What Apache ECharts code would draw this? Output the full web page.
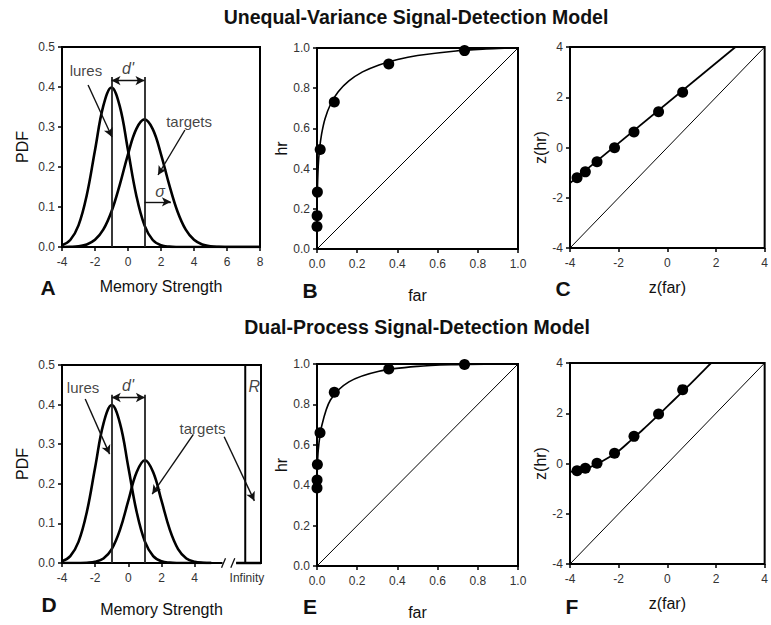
<!DOCTYPE html>
<html><head><meta charset="utf-8">
<script src="https://cdn.jsdelivr.net/npm/echarts@6/dist/echarts.min.js"></script>
<style>html,body{margin:0;padding:0;background:#fff}#c{width:771px;height:625px}</style>
</head><body><div id="c"></div>
<script>
// ---------- data ----------
const strengthX   = [-4,-3.5,-3,-2.5,-2,-1.5,-1,-0.5,0,0.5,1,1.5,2,2.5,3,3.5,4,4.5,5,5.5,6,6.5,7,7.5,8];
const luresPdf    = [0.0044,0.0175,0.054,0.1295,0.242,0.3521,0.3989,0.3521,0.242,0.1295,0.054,0.0175,0.0044,0.0009,0.0001,0,0,0,0,0,0,0,0,0,0];
const targetsPdfA = [0.0001,0.0005,0.0019,0.0063,0.0179,0.0432,0.0887,0.1553,0.2318,0.2946,0.3191,0.2946,0.2318,0.1553,0.0887,0.0432,0.0179,0.0063,0.0019,0.0005,0.0001,0,0,0,0];
const strengthXD  = [-4,-3.5,-3,-2.5,-2,-1.5,-1,-0.5,0,0.5,1,1.5,2,2.5,3,3.5,4,4.5,5];
const luresPdfD   = [0.0044,0.0175,0.054,0.1295,0.242,0.3521,0.3989,0.3521,0.242,0.1295,0.054,0.0175,0.0044,0.0009,0.0001,0,0,0,0];
const targetsPdfD = [0,0,0.0001,0.0006,0.0029,0.0114,0.0351,0.0842,0.1573,0.2289,0.2593,0.2289,0.1573,0.0842,0.0351,0.0114,0.0029,0.0006,0.0001];

// Panel B (ROC, unequal variance)
const farB      = [0.0001,0.0004,0.002,0.016,0.086,0.357,0.734];
const hrB       = [0.112,0.166,0.283,0.495,0.731,0.92,0.987];
const curveFarB = [0,0.00003,0.0002,0.00135,0.0062,0.0122,0.0228,0.04,0.0668,0.1056,0.1587,0.2266,0.3085,0.4013,0.5,0.6915,0.8413,0.9332,1];
const curveHrB  = [0,0.078,0.154,0.268,0.413,0.492,0.571,0.648,0.719,0.782,0.836,0.881,0.916,0.943,0.9625,0.9854,0.9951,0.9986,1];
// Panel C (zROC, unequal variance)
const zFarC = [-3.71,-3.37,-2.89,-2.17,-1.37,-0.36,0.63];
const zHrC  = [-1.2,-0.97,-0.57,-0.01,0.62,1.42,2.2];
const lineZFarC = [-4,2.8];
const lineZHrC  = [-1.42,4];
// Panel E (ROC, dual process)
const farE      = [0.0001,0.0004,0.0019,0.015,0.086,0.357,0.734];
const hrE       = [0.386,0.426,0.502,0.66,0.86,0.975,0.998];
const curveFarE = [0,0.00003,0.00023,0.00135,0.0062,0.0228,0.0668,0.1587,0.3085,0.5,0.6915,0.8413,1];
const curveHrE  = [0.35,0.3687,0.4025,0.4696,0.574,0.6909,0.8217,0.9118,0.9644,0.9884,0.997,0.9994,1];
// Panel F (zROC, dual process)
const zFarF = [-3.71,-3.37,-2.89,-2.17,-1.37,-0.36,0.63];
const zHrF  = [-0.29,-0.19,0.01,0.41,1.08,1.97,2.94];
const curveZFarF = [-4,-3.5,-3,-2.5,-2,-1.5,-1,-0.5,0,0.5,1,1.5,1.8];
const curveZHrF  = [-0.335,-0.246,-0.076,0.187,0.499,0.922,1.352,1.805,2.27,2.745,3.22,3.71,4.0];

// tick values
const strengthTicksD = [-4,-2,0,2,4];
const infinityAt = 7.15;

// ---------- chart ----------
const FONT = "'Liberation Sans', Arial, Helvetica, sans-serif";
const zip = (a, b) => a.map((v, i) => [v, b[i]]);
const chart = echarts.init(document.getElementById('c'), null, {renderer: 'svg'});

const grids = [
  {left: 62,  top: 47,  width: 198, height: 200},
  {left: 317, top: 48,  width: 201, height: 201},
  {left: 570, top: 47,  width: 200, height: 201},
  {left: 62,  top: 365, width: 199, height: 198},
  {left: 317, top: 364, width: 201, height: 202},
  {left: 570, top: 363, width: 200, height: 201}
].map(g => Object.assign(g, {show: true, borderColor: '#000', borderWidth: 2, backgroundColor: 'transparent'}));

const tickStyle = {show: true, inside: false, length: 4, lineStyle: {color: '#000', width: 1.5}};
function axisBase(extra) {
  return Object.assign({
    type: 'value',
    axisLine: {show: false, onZero: false},
    axisTick: tickStyle,
    splitLine: {show: false},
    nameTextStyle: {fontFamily: FONT, fontSize: 16, color: '#111'},
    nameLocation: 'middle'
  }, extra);
}
const lab = (margin, fmt) => ({color: '#333', fontFamily: FONT, fontSize: 12, margin: margin, formatter: fmt, showMinLabel: true, showMaxLabel: true});
const f1 = v => v.toFixed(1);
const f0 = v => String(v);

const xAxes = [
  axisBase({gridIndex: 0, min: -4, max: 8, interval: 2, name: 'Memory Strength', nameGap: 31, axisLabel: lab(9, f0)}),
  axisBase({gridIndex: 1, min: 0, max: 1, interval: 0.2, name: 'far', nameGap: 38, axisLabel: lab(9, f1)}),
  axisBase({gridIndex: 2, min: -4, max: 4, interval: 2, name: 'z(far)', nameGap: 31, axisLabel: lab(9, f0)}),
  axisBase({gridIndex: 3, min: -4, max: 8, name: 'Memory Strength', nameGap: 38,
    axisTick: Object.assign({}, tickStyle, {customValues: strengthTicksD}),
    axisLabel: Object.assign(lab(9, v => (v > 5 ? 'Infinity' : String(v))), {customValues: strengthTicksD.concat([infinityAt])})}),
  axisBase({gridIndex: 4, min: 0, max: 1, interval: 0.2, name: 'far', nameGap: 38, axisLabel: lab(9, f1)}),
  axisBase({gridIndex: 5, min: -4, max: 4, interval: 2, name: 'z(far)', nameGap: 31, axisLabel: lab(9, f0)})
];
const yAxes = [
  axisBase({gridIndex: 0, min: 0, max: 0.5, interval: 0.1, name: 'PDF', nameGap: 32, axisLabel: lab(7, f1)}),
  axisBase({gridIndex: 1, min: 0, max: 1, interval: 0.2, name: 'hr', nameGap: 27, axisLabel: lab(7, f1)}),
  axisBase({gridIndex: 2, min: -4, max: 4, interval: 2, name: 'z(hr)', nameGap: 22, axisLabel: lab(7, f0)}),
  axisBase({gridIndex: 3, min: 0, max: 0.5, interval: 0.1, name: 'PDF', nameGap: 32, axisLabel: lab(7, f1)}),
  axisBase({gridIndex: 4, min: 0, max: 1, interval: 0.2, name: 'hr', nameGap: 27, axisLabel: lab(7, f1)}),
  axisBase({gridIndex: 5, min: -4, max: 4, interval: 2, name: 'z(hr)', nameGap: 22, axisLabel: lab(7, f0)})
];

function curve(i, xs, ys, width, smooth, extra) {
  return Object.assign({
    type: 'line', xAxisIndex: i, yAxisIndex: i, data: zip(xs, ys),
    symbol: 'none', smooth: smooth, lineStyle: {color: '#000', width: width},
    silent: true, z: 3
  }, extra || {});
}
function dots(i, xs, ys) {
  return {type: 'scatter', xAxisIndex: i, yAxisIndex: i, data: zip(xs, ys), symbol: 'circle',
    symbolSize: 11, itemStyle: {color: '#000', opacity: 1}, silent: true, z: 5};
}
const pt = (x, y, sym) => ({coord: [x, y], symbol: sym || 'none'});
function arrows(list) {
  return {silent: true, symbolSize: [7, 9], label: {show: false}, emphasis: {disabled: true},
    lineStyle: {color: '#111', width: 1.4, type: 'solid', opacity: 1}, data: list};
}
const vline = (x, y) => [Object.assign(pt(x, 0), {lineStyle: {width: 1.8, color: '#222'}}), pt(x, y)];
function texts(i, items) {
  return {type: 'scatter', xAxisIndex: i, yAxisIndex: i, symbolSize: 1, itemStyle: {color: 'transparent'},
    silent: true, z: 6,
    label: {show: true, position: 'inside', formatter: '{b}', color: '#111', fontFamily: FONT, fontSize: 15},
    data: items.map(t => ({name: t[0], value: [t[1], t[2]], label: t[3] ? {fontStyle: 'italic', fontSize: 16} : {}}))};
}

const series = [
  // Panel A
  curve(0, strengthX, luresPdf, 2.6, 0.4, {markLine: arrows([
    vline(-1, 0.425),
    vline(1, 0.425),
    [pt(-1, 0.416, 'arrow'), pt(1, 0.416, 'arrow')],
    [pt(-2.42, 0.405), pt(-0.97, 0.275, 'arrow')],
    [pt(3.45, 0.2925), pt(1.82, 0.18, 'arrow')],
    [pt(1, 0.113), pt(2.6, 0.113, 'arrow')]
  ])}),
  curve(0, strengthX, targetsPdfA, 2.6, 0.4),
  texts(0, [['lures', -2.55, 0.4425], ["d'", 0, 0.447, true], ['targets', 3.7, 0.315], ['σ', 1.94, 0.138, true]]),
  // Panel B
  curve(1, [0, 1], [0, 1], 1, false),
  curve(1, curveFarB, curveHrB, 1.6, 0.3),
  dots(1, farB, hrB),
  // Panel C
  curve(2, [-4, 4], [-4, 4], 1, false),
  curve(2, lineZFarC, lineZHrC, 1.8, false),
  dots(2, zFarC, zHrC),
  // Panel D
  curve(3, strengthXD, luresPdfD, 2.6, 0.4, {markLine: arrows([
    vline(-1, 0.425),
    vline(1, 0.425),
    [pt(-1, 0.418, 'arrow'), pt(1, 0.418, 'arrow')],
    [pt(-2.6, 0.414), pt(-1.13, 0.275, 'arrow')],
    [pt(3.92, 0.325), pt(1.44, 0.174, 'arrow')],
    [pt(5.78, 0.319), pt(7.6, 0.157, 'arrow')]
  ])}),
  curve(3, strengthXD, targetsPdfD, 2.6, 0.4),
  curve(3, [7.05, 7.05], [0, 0.5], 2, false),
  // axis break on D
  curve(3, [5.68, 6.52], [0, 0], 6, false, {clip: false, z: 8, lineStyle: {color: '#fff', width: 6}}),
  {type: 'line', xAxisIndex: 3, yAxisIndex: 3, symbol: 'none', clip: false, silent: true, z: 9,
   connectNulls: false, lineStyle: {color: '#111', width: 1.3},
   data: [[5.62, -0.012], [5.86, 0.012], '-', [6.18, -0.012], [6.42, 0.012]]},
  curve(3, [6.5, 8], [0, 0], 2.5, false, {clip: false, z: 8}),
  texts(3, [['lures', -2.73, 0.442], ["d'", -0.02, 0.447, true], ['targets', 4.47, 0.34], ['R', 7.6, 0.445, true]]),
  // Panel E
  curve(4, [0, 1], [0, 1], 1, false),
  curve(4, curveFarE, curveHrE, 1.6, 0.3),
  dots(4, farE, hrE),
  // Panel F
  curve(5, [-4, 4], [-4, 4], 1, false),
  curve(5, curveZFarF, curveZHrF, 1.8, 0.3),
  dots(5, zFarF, zHrF)
];

const txt = (s, x, y, font) => ({type: 'text', x: x, y: y, silent: true,
  style: {text: s, align: 'center', verticalAlign: 'middle', font: font, fill: '#111'}});
const titleFont = "bold 19.5px " + FONT;
const letterFont = "bold 21px " + FONT;

chart.setOption({
  animation: false,
  textStyle: {fontFamily: FONT},
  grid: grids,
  xAxis: xAxes,
  yAxis: yAxes,
  series: series,
  graphic: [
    txt('Unequal-Variance Signal-Detection Model', 416, 17, titleFont),
    txt('Dual-Process Signal-Detection Model', 417, 327, titleFont),
    txt('A', 48, 287, letterFont),
    txt('B', 310, 290, letterFont),
    txt('C', 563, 288, letterFont),
    txt('D', 49, 604, letterFont),
    txt('E', 310, 606, letterFont),
    txt('F', 572, 606, letterFont)
  ]
});
</script>
</body></html>
